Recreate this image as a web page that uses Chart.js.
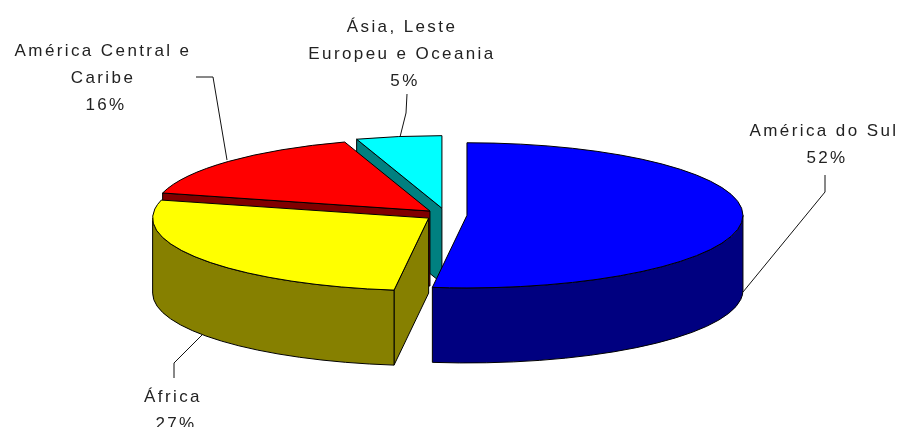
<!DOCTYPE html>
<html>
<head>
<meta charset="utf-8">
<title>Pie</title>
<script src="https://cdn.jsdelivr.net/npm/chart.js@4"></script>
<style>
    html, body { margin: 0; padding: 0; background: #fff; overflow: hidden; }
    canvas { display: block; }
</style>
</head>
<body>
<canvas id="myChart" width="904" height="427"></canvas>
<script>
var categories = ['América do Sul', 'África', 'América Central e Caribe', 'Ásia, Leste Europeu e Oceania'];
var shares = [52, 27, 16, 5];
var top_colors = ['#0000ff', '#ffff00', '#ff0000', '#00ffff'];
var wall_colors = ['#000080', '#868000', '#800000', '#008080'];
var explode = [21, 21, 22, 26];

// label lines and leader lines, same order as categories
var label_lines = [
    ['América do Sul'],
    ['África'],
    ['América Central e', 'Caribe'],
    ['Ásia, Leste', 'Europeu e Oceania']
];
var label_pos = [[824, 131], [173, 397], [103, 51], [402, 27]];
var leaders = [
    [[743, 292], [825, 192], [825, 175]],
    [[202, 335], [174, 363], [174, 378]],
    [[227, 160], [213, 77], [196, 77]],
    [[400, 137], [406, 113], [407, 94]]
];

var squash = 0.263;   // tilt of the pie
var depth = 75;       // height of the walls
var line_gap = 27;

// canvas point on the rim of a slice
function rim(c, a) {
    return [c.x + c.r * Math.cos(a), c.y + c.r * squash * Math.sin(a)];
}

function fill_stroke(ctx, color) {
    ctx.closePath();
    ctx.fillStyle = color;
    ctx.fill();
    ctx.stroke();
}

function draw_slice(ctx, arc, i) {
    var p = arc.getProps(['x', 'y', 'startAngle', 'endAngle', 'outerRadius'], true);
    var mid = (p.startAngle + p.endAngle) / 2;
    var c = {
        x: p.x + explode[i] * Math.cos(mid),
        y: p.y + explode[i] * squash * Math.sin(mid),
        r: p.outerRadius
    };
    var start = p.startAngle;
    var end = p.endAngle;

    // side wall along the first radius, only when it looks to the front
    if (Math.cos(start) < 0) {
        var e = rim(c, start);
        ctx.beginPath();
        ctx.moveTo(c.x, c.y);
        ctx.lineTo(e[0], e[1]);
        ctx.lineTo(e[0], e[1] + depth);
        ctx.lineTo(c.x, c.y + depth);
        fill_stroke(ctx, wall_colors[i]);
    }

    // outer wall, front half of the ellipse only
    var w0 = Math.max(start, 0);
    var w1 = Math.min(end, Math.PI);
    if (w1 > w0) {
        ctx.beginPath();
        ctx.ellipse(c.x, c.y, c.r, c.r * squash, 0, w0, w1);
        ctx.ellipse(c.x, c.y + depth, c.r, c.r * squash, 0, w1, w0, true);
        fill_stroke(ctx, wall_colors[i]);
    }

    // top face
    ctx.beginPath();
    ctx.moveTo(c.x, c.y);
    ctx.ellipse(c.x, c.y, c.r, c.r * squash, 0, start, end);
    fill_stroke(ctx, top_colors[i]);
}

var pie3d = {
    id: 'pie3d',
    beforeDatasetsDraw: function (chart) {
        var ctx = chart.ctx;
        var arcs = chart.getDatasetMeta(0).data;
        ctx.save();
        ctx.strokeStyle = '#000';
        ctx.lineWidth = 1;
        for (var i = arcs.length - 1; i >= 0; i--) {
            draw_slice(ctx, arcs[i], i);
        }
        ctx.restore();
        return false;
    },
    afterDraw: function (chart) {
        var ctx = chart.ctx;
        ctx.save();
        ctx.strokeStyle = '#111';
        ctx.lineWidth = 1;
        for (var i = 0; i < leaders.length; i++) {
            ctx.beginPath();
            ctx.moveTo(leaders[i][0][0], leaders[i][0][1]);
            ctx.lineTo(leaders[i][1][0], leaders[i][1][1]);
            ctx.lineTo(leaders[i][2][0], leaders[i][2][1]);
            ctx.stroke();
        }
        ctx.fillStyle = '#222';
        ctx.font = '17px "Liberation Sans"';
        ctx.letterSpacing = '2.4px';
        ctx.textAlign = 'center';
        ctx.textBaseline = 'middle';
        for (var j = 0; j < categories.length; j++) {
            var lines = label_lines[j];
            for (var k = 0; k < lines.length; k++) {
                ctx.fillText(lines[k], label_pos[j][0], label_pos[j][1] + k * line_gap);
            }
            // the percentages sit a little to the right of the names
            ctx.fillText(shares[j] + '%', label_pos[j][0] + 3, label_pos[j][1] + lines.length * line_gap);
        }
        ctx.restore();
    }
};

var chart = new Chart(document.getElementById('myChart'), {
    type: 'pie',
    data: {
        labels: categories,
        datasets: [{ data: shares, backgroundColor: top_colors, borderWidth: 0 }]
    },
    options: {
        responsive: false,
        animation: false,
        radius: 276,
        rotation: 0,
        layout: { padding: { right: 12, top: 3 } },
        plugins: {
            legend: { display: false },
            tooltip: { enabled: false }
        }
    },
    plugins: [pie3d]
});
</script>
</body>
</html>
